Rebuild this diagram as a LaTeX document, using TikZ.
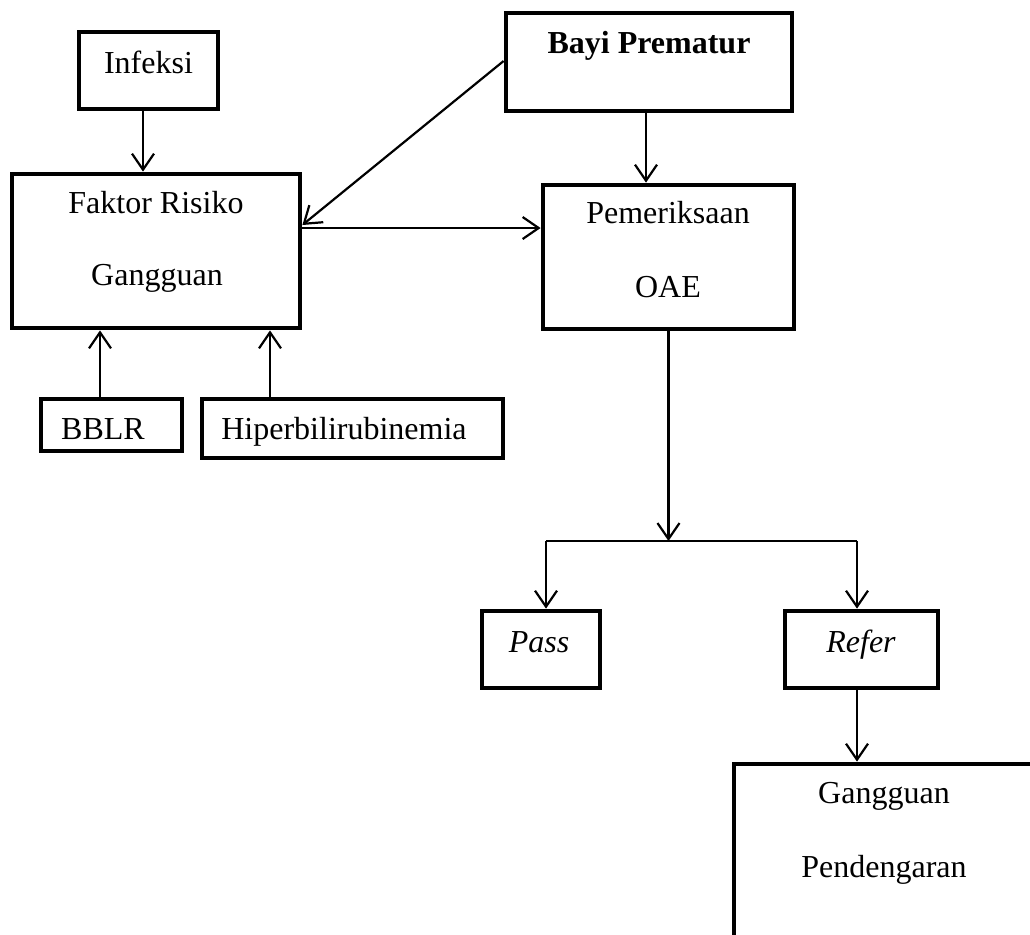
\documentclass[tikz,border=0pt]{standalone}
\usepackage{fontspec}
\setmainfont{Liberation Serif}
\usetikzlibrary{arrows.meta}
\begin{document}
\begin{tikzpicture}[x=0.5pt,y=-0.5pt,
  box/.style={draw=black, line width=2.4pt, rectangle, inner sep=0pt},
  lbl/.style={anchor=base, inner sep=0pt, font=\fontsize{16}{19}\selectfont},
  arr/.style={line width=1.1pt, -{Straight Barb[length=8pt,width=11pt,line width=1.1pt]}},
  ln/.style={line width=0.8pt}]
\useasboundingbox (0,0) rectangle (1030,934);
\clip (0,0) rectangle (1030,934);
\fill[white] (0,0) rectangle (1030,934);
% boxes
\node[box, minimum width=69.5pt, minimum height=38.5pt] (inf) at (148.5,70.5) {};
\node[box, minimum width=144pt, minimum height=77pt] (fak) at (156,251) {};
\node[box, minimum width=143pt, minimum height=49pt] (bay) at (649,62) {};
\node[box, minimum width=125.5pt, minimum height=72pt] (pem) at (668.5,257) {};
\node[box, minimum width=70.5pt, minimum height=26pt] (bbl) at (111.5,425) {};
\node[box, minimum width=150.5pt, minimum height=29.5pt] (hip) at (352.5,428.5) {};
\node[box, minimum width=59pt, minimum height=38.5pt] (pas) at (541,649.5) {};
\node[box, minimum width=76.5pt, minimum height=38.5pt] (ref) at (861.5,649.5) {};
\node[box, minimum width=151pt, minimum height=88pt] (gp) at (885,852) {};
% texts
\node[lbl] (tinf) at (148.5,73) {Infeksi};
\node[lbl] (tfak1) at (156,213) {Faktor Risiko};
\node[lbl] (tfak2) at (157,285) {Gangguan};
\node[lbl, font=\fontsize{16}{19}\selectfont\bfseries] (tbay) at (649,53) {Bayi Prematur};
\node[lbl] (tpem1) at (668,223) {Pemeriksaan};
\node[lbl] (tpem2) at (668,297) {OAE};
\node[lbl] (tbbl) at (103,439) {BBLR};
\node[lbl] (thip) at (344,439) {Hiperbilirubinemia};
\node[lbl, font=\fontsize{16}{19}\selectfont\itshape] (tpas) at (539,652) {Pass};
\node[lbl, font=\fontsize{16}{19}\selectfont\itshape] (tref) at (861,652) {Refer};
\node[lbl] (tgp1) at (884,803) {Gangguan};
\node[lbl] (tgp2) at (884,877) {Pendengaran};
% connectors
\draw[arr] ([xshift=-2.75pt]inf.south) -- ([xshift=-2.75pt]inf.south |- fak.north);
\draw[arr] ([yshift=0.5pt]bay.west) -- ([yshift=13pt]fak.east);
\draw[arr] ([yshift=11.5pt]fak.east) -- ([yshift=11.5pt]fak.east -| pem.west);
\draw[arr] ([xshift=-1.5pt]bay.south) -- ([xshift=-1.5pt]bay.south |- pem.north);
\draw[arr] ([xshift=-5.75pt]bbl.north) -- ([xshift=-5.75pt]bbl.north |- fak.south);
\draw[arr] ([xshift=-41.25pt]hip.north) -- ([xshift=-41.25pt]hip.north |- fak.south);
\coordinate (sp) at (668.5,541);
\coordinate (spl) at (546,541);
\coordinate (spr) at (857,541);
\draw[arr] (pem.south) -- (sp);
\draw[ln] (spl) -- (spr);
\draw[arr] (spl) -- (spl |- pas.north);
\draw[arr] (spr) -- (spr |- ref.north);
\draw[arr] ([xshift=-2.25pt]ref.south) -- ([xshift=-2.25pt]ref.south |- gp.north);
\end{tikzpicture}
\end{document}
